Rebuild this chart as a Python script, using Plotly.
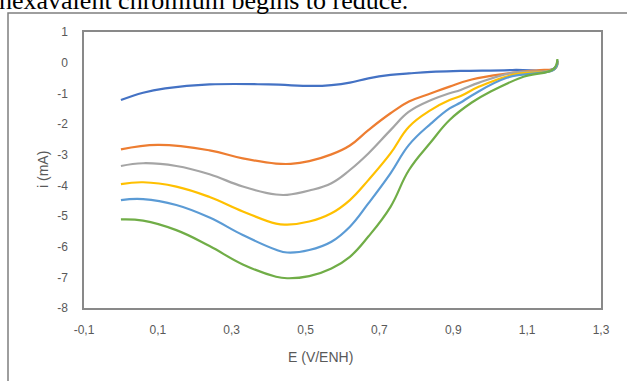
import plotly.graph_objects as go

# Potential (V vs. ENH) and current (mA) for the six voltammograms
E_1 = [0.00, 0.06, 0.12, 0.24, 0.40, 0.52, 0.57, 0.62, 0.67, 0.73, 0.78, 0.84, 0.92, 1.06, 1.175, 1.182]
i_1 = [-1.22, -0.98, -0.84, -0.71, -0.71, -0.76, -0.73, -0.65, -0.51, -0.40, -0.35, -0.30, -0.27, -0.24, -0.17, 0.08]

E_2 = [0.00, 0.10, 0.24, 0.33, 0.42, 0.46, 0.51, 0.57, 0.62, 0.67, 0.73, 0.78, 0.84, 0.89, 0.95, 1.05, 1.135, 1.175, 1.182]
i_2 = [-2.83, -2.68, -2.86, -3.12, -3.29, -3.30, -3.21, -2.99, -2.70, -2.20, -1.65, -1.27, -1.00, -0.78, -0.55, -0.35, -0.24, -0.19, 0.05]

E_3 = [0.00, 0.06, 0.15, 0.24, 0.33, 0.42, 0.45, 0.51, 0.57, 0.62, 0.67, 0.73, 0.78, 0.84, 0.89, 0.92, 0.97, 1.06, 1.175, 1.182]
i_3 = [-3.37, -3.28, -3.37, -3.64, -4.04, -4.30, -4.31, -4.17, -3.93, -3.50, -2.96, -2.20, -1.60, -1.22, -1.00, -0.89, -0.65, -0.33, -0.20, 0.05]

E_4 = [0.00, 0.06, 0.15, 0.24, 0.33, 0.42, 0.45, 0.51, 0.57, 0.62, 0.67, 0.73, 0.78, 0.84, 0.89, 0.92, 0.97, 1.06, 1.175, 1.182]
i_4 = [-3.96, -3.90, -4.04, -4.38, -4.85, -5.25, -5.28, -5.18, -4.91, -4.48, -3.83, -2.96, -2.09, -1.54, -1.22, -1.09, -0.78, -0.40, -0.20, 0.05]

E_5 = [0.00, 0.06, 0.15, 0.24, 0.33, 0.42, 0.45, 0.51, 0.57, 0.62, 0.67, 0.73, 0.78, 0.84, 0.89, 0.92, 0.95, 1.045, 1.175, 1.182]
i_5 = [-4.48, -4.45, -4.64, -5.05, -5.62, -6.10, -6.19, -6.11, -5.84, -5.35, -4.59, -3.61, -2.68, -1.98, -1.49, -1.30, -1.07, -0.49, -0.20, 0.05]

E_6 = [0.00, 0.06, 0.15, 0.24, 0.33, 0.42, 0.45, 0.51, 0.57, 0.62, 0.67, 0.73, 0.78, 0.84, 0.89, 0.95, 1.00, 1.09, 1.171, 1.182]
i_6 = [-5.11, -5.15, -5.46, -5.98, -6.58, -6.98, -7.03, -6.96, -6.71, -6.33, -5.67, -4.70, -3.50, -2.58, -1.87, -1.30, -0.95, -0.46, -0.21, 0.12]

series = [
    (E_1, i_1, "#4472C4"),
    (E_2, i_2, "#ED7D31"),
    (E_3, i_3, "#A5A5A5"),
    (E_4, i_4, "#FFC000"),
    (E_5, i_5, "#5B9BD5"),
    (E_6, i_6, "#70AD47"),
]

x_ticks = [-0.1, 0.1, 0.3, 0.5, 0.7, 0.9, 1.1, 1.3]
x_tick_text = ["-0,1", "0,1", "0,3", "0,5", "0,7", "0,9", "1,1", "1,3"]
y_ticks = [-8, -7, -6, -5, -4, -3, -2, -1, 0, 1]
y_tick_text = ["-8", "-7", "-6", "-5", "-4", "-3", "-2", "-1", "0", "1"]

fig = go.Figure()
for E, i, color in series:
    fig.add_trace(go.Scatter(
        x=E, y=i, mode="lines",
        line=dict(color=color, width=2.2, shape="spline", smoothing=1.2),
        showlegend=False, hoverinfo="skip",
    ))

axis_font = dict(family="Liberation Sans, Arial, sans-serif", size=12, color="#595959")

fig.update_layout(
    width=627, height=381,
    margin=dict(l=84, r=26, t=32, b=73),
    paper_bgcolor="white", plot_bgcolor="white",
    xaxis=dict(
        range=[-0.1, 1.3], tickvals=x_ticks, ticktext=x_tick_text,
        showgrid=False, zeroline=False,
        showline=True, mirror=True, linecolor="#898989", linewidth=1.5,
        ticks="", ticklabelstandoff=10, tickfont=axis_font,
    ),
    yaxis=dict(
        range=[-8, 1], tickvals=y_ticks, ticktext=y_tick_text,
        showgrid=False, zeroline=False,
        showline=True, mirror=True, linecolor="#898989", linewidth=1.5,
        ticks="", ticklabelstandoff=12, tickfont=axis_font,
    ),
    shapes=[
        # outer chart frame, running off the page on the right and bottom
        dict(type="rect", xref="paper", yref="paper",
             x0=(8 - 84) / 517, x1=(640 - 84) / 517,
             y0=(308 - 400) / 276, y1=1 + (32 - 13) / 276,
             line=dict(color="#7F7F7F", width=1.5), fillcolor="rgba(0,0,0,0)"),
    ],
    annotations=[
        dict(text="hexavalent chromium begins to reduce.",
             xref="paper", yref="paper",
             x=(-3 - 84) / 517, y=1 + (32 - 1) / 276,
             xanchor="left", yanchor="middle", showarrow=False,
             font=dict(family="Liberation Serif, Times New Roman, serif", size=26, color="black")),
        dict(text="E (V/ENH)", xref="paper", yref="paper",
             x=(320 - 84) / 517, y=-(357 - 308) / 276,
             xanchor="center", yanchor="middle", showarrow=False,
             font=dict(family="Liberation Sans, Arial, sans-serif", size=14, color="#595959")),
        dict(text="i (mA)", xref="paper", yref="paper",
             x=-(84 - 43) / 517, y=0.5, textangle=-90,
             xanchor="center", yanchor="middle", showarrow=False,
             font=dict(family="Liberation Sans, Arial, sans-serif", size=14, color="#595959")),
    ],
)

fig.write_html("out.html")
